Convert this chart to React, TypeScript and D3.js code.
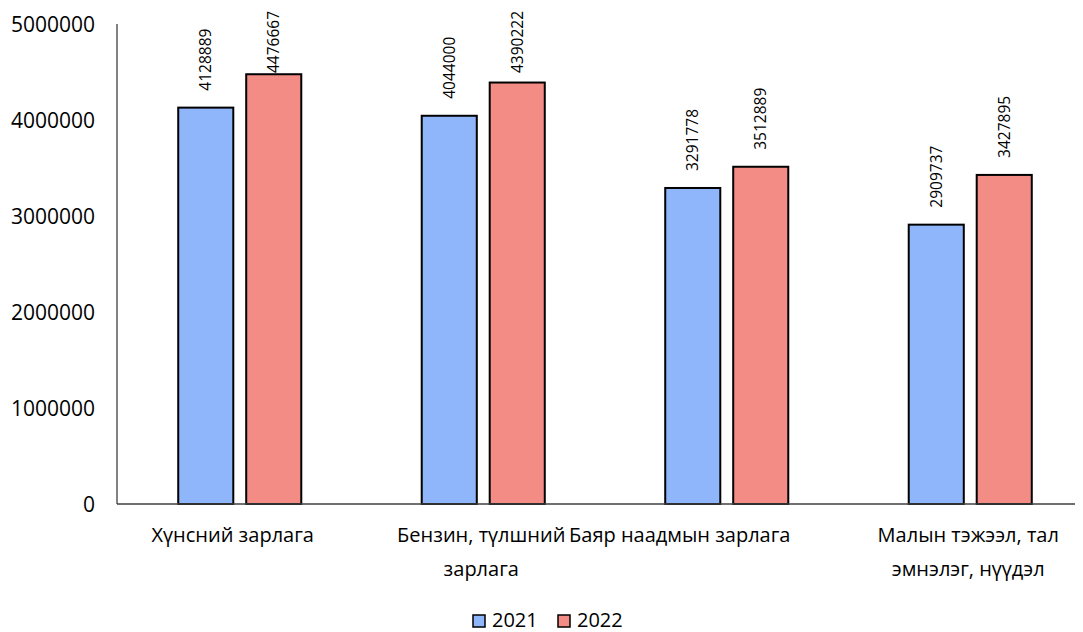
import React from "react";
import * as d3 from "d3";

const categories = ["Хүнсний зарлага", "Бензин, түлшний зарлага", "Баяр наадмын зарлага", "Малын тэжээл, тал эмнэлэг, нүүдэл"];
const categoryLines = [["Хүнсний зарлага"], ["Бензин, түлшний", "зарлага"], ["Баяр наадмын зарлага"], ["Малын тэжээл, тал", "эмнэлэг, нүүдэл"]];
const seriesNames = ["2021", "2022"];
const values2021 = [4128889, 4044000, 3291778, 2909737];
const values2022 = [4476667, 4390222, 3512889, 3427895];
const yTicks = [0, 1000000, 2000000, 3000000, 4000000, 5000000];
const colors = ["#8fb5fa", "#f28c84"];

// horizontal nudges of the category labels (layout only)
const labelShift = [-7, -2, -47, -2];

const W = 1083, H = 632;
const FONT = "'Open Sans', 'Noto Sans', sans-serif";

export default function App() {
  const y = d3.scaleLinear().domain([0, 5000000]).range([504, 24]);
  const x = d3.scaleBand<string>().domain(categories).range([118, 1092]).paddingInner(0).paddingOuter(0);
  const sub = d3.scaleBand<string>().domain(seriesNames).range([0, x.bandwidth()]).paddingInner(0.19).paddingOuter(0.886);
  const series = [values2021, values2022];

  return (
    <svg width={W} height={H} style={{ position: "absolute", left: 0, top: 0, background: "#fff" }} fontFamily={FONT}>
      <line x1={117} x2={117} y1={24} y2={504} stroke="#404040" strokeWidth={1.3} />
      {yTicks.map((t) => (
        <text key={t} x={95} y={y(t)} dy="0.36em" textAnchor="end" fontSize={21} fill="#000">{t}</text>
      ))}
      {categories.map((c, i) => (
        <g key={c}>
          {series.map((vals, s) => {
            const bx = (x(c) as number) + (sub(seriesNames[s]) as number);
            const bw = sub.bandwidth();
            const v = vals[i];
            const ly = Math.max(y(v) - 17, 73);
            return (
              <g key={s}>
                <rect x={bx} y={y(v)} width={bw} height={y(0) - y(v)} fill={colors[s]} stroke="#000" strokeWidth={2} />
                <text transform={`translate(${bx + bw / 2},${ly}) rotate(-90)`} dy="0.35em" fontSize={15.5} fill="#000">{v}</text>
              </g>
            );
          })}
          {categoryLines[i].map((ln, k) => (
            <text key={k} x={(x(c) as number) + x.bandwidth() / 2 + labelShift[i]} y={542 + k * 34} textAnchor="middle" fontSize={20} fill="#000">{ln}</text>
          ))}
        </g>
      ))}
      <line x1={117} x2={1075} y1={504} y2={504} stroke="#404040" strokeWidth={1.3} />
      {seriesNames.map((s, i) => (
        <g key={s} transform={`translate(${473 + i * 85},0)`}>
          <rect x={0} y={615} width={12} height={12} fill={colors[i]} stroke="#000" strokeWidth={1.5} />
          <text x={19} y={627} fontSize={20} fill="#000">{s}</text>
        </g>
      ))}
    </svg>
  );
}
